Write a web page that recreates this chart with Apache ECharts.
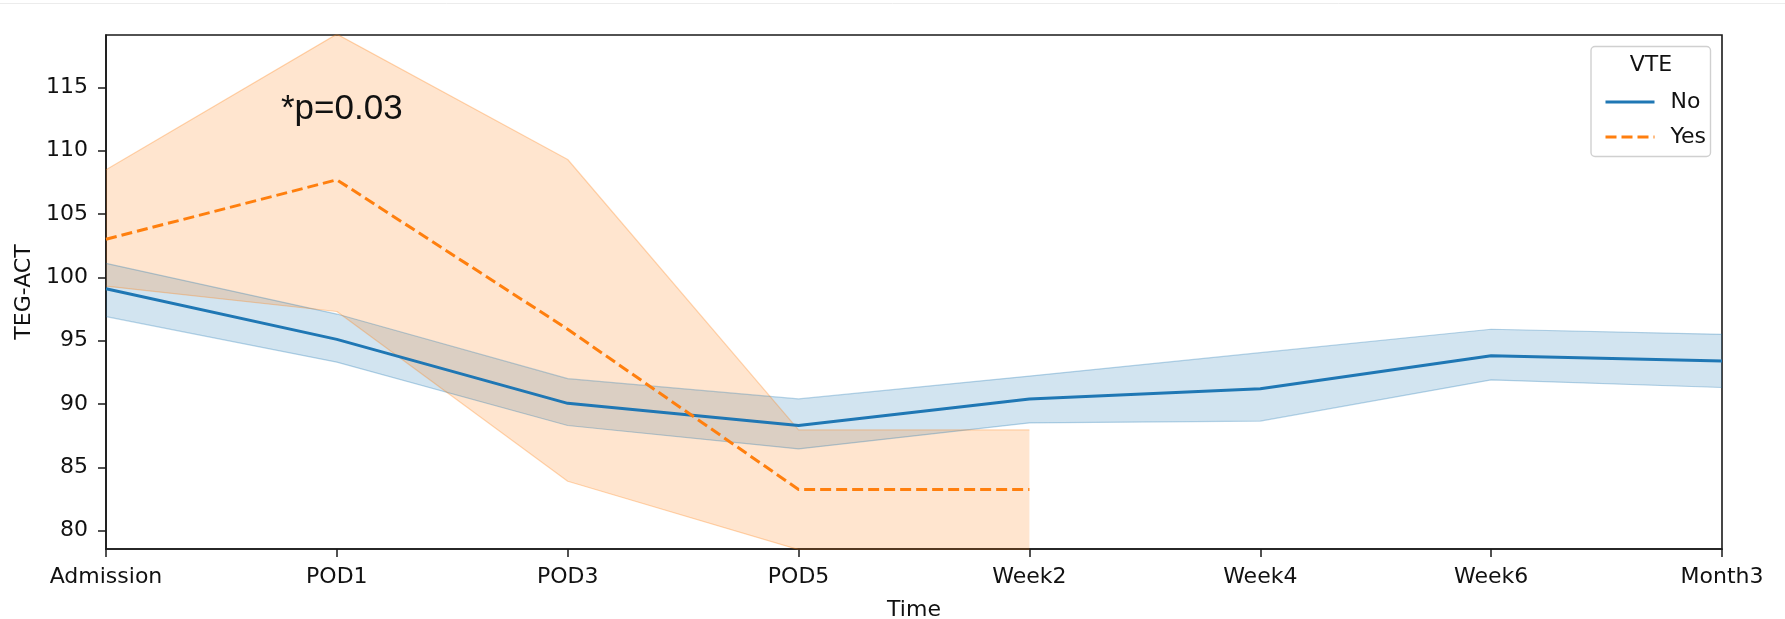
<!DOCTYPE html>
<html>
<head>
<meta charset="utf-8">
<script src="https://cdn.jsdelivr.net/npm/echarts@6/dist/echarts.min.js"></script>
<style>
  html, body { margin: 0; padding: 0; background: #ffffff; }
  #chart { width: 1785px; height: 619px; }
</style>
</head>
<body>
<div id="chart"></div>
<script>
const categories = ['Admission', 'POD1', 'POD3', 'POD5', 'Week2', 'Week4', 'Week6', 'Month3'];
const noMean  = [99.1, 95.1, 90.05, 88.3, 90.4, 91.2, 93.8, 93.4];
const noLower = [96.9, 93.3, 88.3, 86.45, 88.5, 88.65, 91.9, 91.3];
const noUpper = [101.1, 97.1, 92.0, 90.4, 92.2, 94.05, 95.9, 95.5];
const yesMean  = [103.0, 107.7, 95.9, 83.25, 83.25, null, null, null];
const yesLower = [99.3, 97.3, 83.9, 78.5, 78.5, null, null, null];
const yesUpper = [108.5, 119.2, 109.3, 87.95, 87.95, null, null, null];
const yTickValues = [80, 85, 90, 95, 100, 105, 110, 115];
const yMin = 78.55, yMax = 119.13;

const BLUE = '#1f77b4', ORANGE = '#ff7f0e';
const FONT = 'DejaVu Sans';

function spread(up, lo) {
  return up.map((u, i) => (u == null || lo[i] == null) ? null : +(u - lo[i]).toFixed(3));
}

const chart = echarts.init(document.getElementById('chart'), null, { renderer: 'canvas' });

const option = {
  backgroundColor: '#ffffff',
  animation: false,
  grid: {
    left: 106, right: 63, top: 35, bottom: 70,
    containLabel: false,
    outerBoundsMode: 'none',
    show: true, borderColor: '#1a1a1a', borderWidth: 1.6, backgroundColor: 'transparent'
  },
  xAxis: {
    type: 'category',
    data: categories,
    boundaryGap: false,
    name: 'Time',
    nameLocation: 'middle',
    nameGap: 50,
    nameTextStyle: { fontFamily: FONT, fontSize: 22, color: '#111' },
    axisLine: { show: true, lineStyle: { color: '#1a1a1a', width: 1.6 } },
    axisTick: { show: true, alignWithLabel: true, length: 8, lineStyle: { color: '#1a1a1a', width: 1.5 } },
    axisLabel: { fontFamily: FONT, fontSize: 22, color: '#111', margin: 17, interval: 0 },
    splitLine: { show: false }
  },
  yAxis: {
    type: 'value',
    min: yMin,
    max: yMax,
    name: 'TEG-ACT',
    nameLocation: 'middle',
    nameRotate: 90,
    nameGap: 69,
    nameTextStyle: { fontFamily: FONT, fontSize: 22, color: '#111' },
    axisLine: { show: true, lineStyle: { color: '#1a1a1a', width: 1.6 } },
    axisTick: { show: true, length: 8, customValues: yTickValues, lineStyle: { color: '#1a1a1a', width: 1.5 } },
    axisLabel: { fontFamily: FONT, fontSize: 22, color: '#111', margin: 18, customValues: yTickValues },
    splitLine: { show: false }
  },
  legend: {
    data: ['No', 'Yes'],
    orient: 'vertical',
    left: 1599,
    top: 86,
    itemWidth: 49,
    itemHeight: 14,
    itemGap: 13,
    itemStyle: { opacity: 0 },
    lineStyle: { width: 3 },
    textStyle: { fontFamily: FONT, fontSize: 22, color: '#111', lineHeight: 22, padding: [0, 0, 0, 11] },
    selectedMode: false,
    z: 10
  },
  graphic: [
    {
      type: 'text',
      style: { x: 914, y: 7.5, text: 'Time', font: '22px "DejaVu Sans"', fill: '#222', textAlign: 'center', textVerticalAlign: 'bottom' },
      z: 1, silent: true
    },
    {
      type: 'rect',
      shape: { x: 0, y: 0, width: 1785, height: 3.5 },
      style: { fill: '#ffffff' },
      z: 2, silent: true
    },
    {
      type: 'line',
      shape: { x1: 0, y1: 3.5, x2: 1785, y2: 3.5 },
      style: { stroke: '#ececec', lineWidth: 1 },
      z: 3, silent: true
    },
    {
      type: 'rect',
      shape: { x: 1591, y: 46.5, width: 119.5, height: 110, r: 4 },
      style: { fill: 'rgba(255,255,255,0.8)', stroke: '#d0d0d0', lineWidth: 1.4 },
      z: 9, silent: true
    },
    {
      type: 'text',
      style: { x: 1651, y: 65.5, text: 'VTE', font: '22px "DejaVu Sans"', fill: '#111', textAlign: 'center', textVerticalAlign: 'middle' },
      z: 10, silent: true
    },
    {
      type: 'text',
      style: { x: 281, y: 109, text: '*p=0.03', font: '35px "Liberation Sans"', fill: '#111', textAlign: 'left', textVerticalAlign: 'middle' },
      z: 10, silent: true
    }
  ],
  series: [
    {
      name: 'noBandBase', type: 'line', data: noLower, stack: 'noBand',
      symbol: 'none', silent: true, z: 1,
      lineStyle: { color: BLUE, opacity: 0.3, width: 1.2 }
    },
    {
      name: 'noBand', type: 'line', data: spread(noUpper, noLower), stack: 'noBand',
      symbol: 'none', silent: true, z: 1,
      lineStyle: { color: BLUE, opacity: 0.3, width: 1.2 },
      areaStyle: { color: BLUE, opacity: 0.2 }
    },
    {
      name: 'yesBandBase', type: 'line', data: yesLower, stack: 'yesBand',
      symbol: 'none', silent: true, z: 1,
      lineStyle: { color: ORANGE, opacity: 0.3, width: 1.2 }
    },
    {
      name: 'yesBand', type: 'line', data: spread(yesUpper, yesLower), stack: 'yesBand',
      symbol: 'none', silent: true, z: 1,
      lineStyle: { color: ORANGE, opacity: 0.3, width: 1.2 },
      areaStyle: { color: ORANGE, opacity: 0.2 }
    },
    {
      name: 'No', type: 'line', data: noMean,
      symbol: 'none', z: 5,
      itemStyle: { color: BLUE },
      lineStyle: { color: BLUE, width: 3 }
    },
    {
      name: 'Yes', type: 'line', data: yesMean,
      symbol: 'none', z: 5,
      itemStyle: { color: ORANGE },
      lineStyle: { color: ORANGE, width: 3, type: [11, 5] }
    }
  ]
};

chart.setOption(option);
</script>
</body>
</html>
